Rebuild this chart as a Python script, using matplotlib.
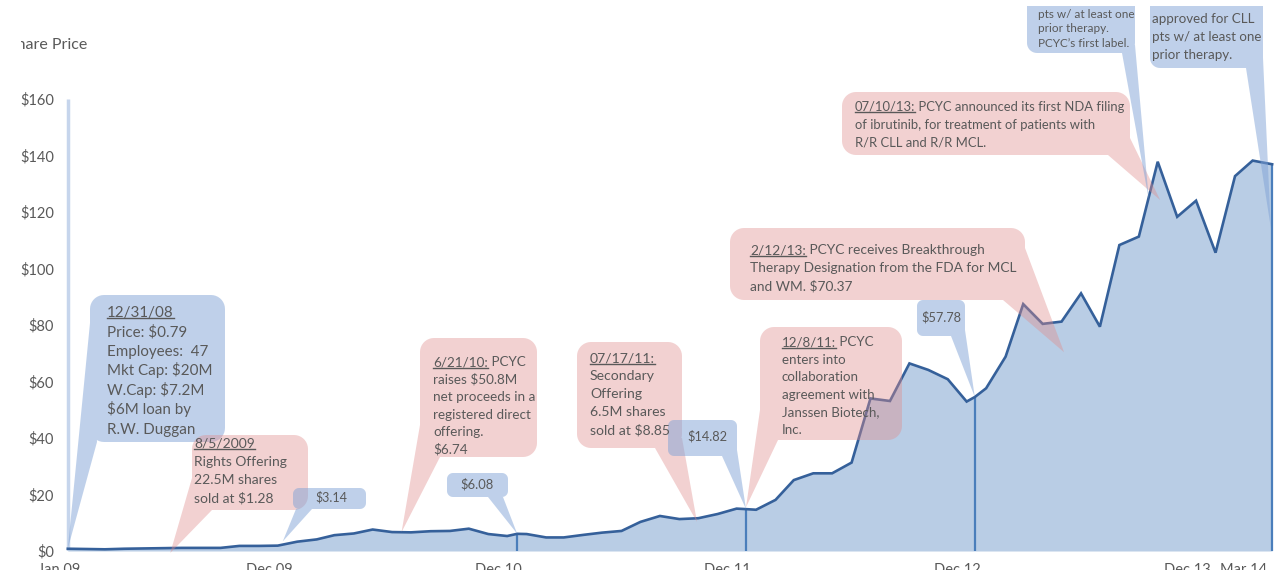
import matplotlib
matplotlib.use("Agg")
import matplotlib.pyplot as plt
import matplotlib.dates as mdates
from matplotlib.path import Path
from matplotlib.patches import PathPatch, Rectangle
import numpy as np
import pandas as pd

# ---------------- data ----------------
month_start = "2009-01-01"
month_values = [0.8, 0.7, 0.6, 0.8, 0.9, 1.0, 1.1, 1.1, 1.1, 1.8, 1.8, 1.9,
                3.3, 4.1, 5.6, 6.2, 7.6, 6.7, 6.6, 7.0, 7.1, 7.9, 6.0, 5.3,
                6.0, 4.8, 4.8, 5.7, 6.5, 7.1, 10.3, 12.4, 11.3, 11.6, 13.1, 15.0,
                14.6, 18.1, 25.1, 27.5, 27.5, 31.3, 54.0, 53.1, 66.4, 64.1, 60.8, 52.9,
                57.6, 68.8, 87.4, 80.4, 81.2, 91.2, 79.4, 108.3, 111.3, 137.8, 118.3, 124.0,
                105.6, 132.7, 138.2, 136.9]
event_dates = ["2010-12-31", "2011-12-30", "2012-12-28"]
event_values = [6.08, 14.82, 54.5]

tick_dates = ["2009-01-01", "2009-12-01", "2010-12-01", "2011-12-01",
              "2012-12-01", "2013-12-01", "2014-03-01"]
tick_labels = ["Jan 09", "Dec 09", "Dec 10", "Dec 11", "Dec 12", "Dec 13", "Mar 14"]
y_ticks = [0, 20, 40, 60, 80, 100, 120, 140, 160]
y_labels = ["$0", "$20", "$40", "$60", "$80", "$100", "$120", "$140", "$160"]

month_dates = pd.date_range(month_start, periods=len(month_values), freq="MS") + pd.Timedelta(days=14)
s = pd.concat([pd.Series(month_values, index=month_dates),
               pd.Series(event_values, index=pd.to_datetime(event_dates))]).sort_index()

# ---------------- figure ----------------
W, H = 1276, 570
FAM = "Lato"
GRAY = "#595959"
LINE = "#35609a"
FILL = "#b9cde5"
DROP = "#4a7ebb"
RED_FC = (0.88, 0.55, 0.55, 0.40)
BLUE_FC = (0.50, 0.64, 0.84, 0.50)

fig = plt.figure(figsize=(W / 100, H / 100), dpi=100)
ax = fig.add_axes([59 / W, 19 / H, (1274 - 59) / W, 452 / H])
ax.set_xlim(pd.Timestamp("2009-01-01"), pd.Timestamp("2014-04-18"))
ax.set_ylim(0, 160)

ax.fill_between(s.index, s.values, 0, color=FILL, lw=0, zorder=1)
ax.plot(s.index, s.values, color=LINE, lw=1.9, zorder=3, solid_joinstyle="miter")
ax.vlines(pd.to_datetime(event_dates), 0, event_values, color=DROP, lw=1.6, zorder=2)
ax.vlines(s.index[-1], 0, s.values[-1], color=DROP, lw=1.6, zorder=2)
ax.vlines(s.index[0], 0, 160, color="#c6d5ec", lw=2.5, zorder=0.5)

for sp in ax.spines.values():
    sp.set_visible(False)
ax.set_yticks(y_ticks)
ax.set_yticklabels(y_labels, fontsize=10.5, color=GRAY, family=FAM)
ax.set_xticks(pd.to_datetime(tick_dates))
ax.set_xticklabels(tick_labels, fontsize=10.5, color=GRAY, family=FAM)
ax.tick_params(axis="y", length=0, pad=3.6)
ax.tick_params(axis="x", length=0, pad=8.5)

fig.text(8 / W, 1 - 45 / H, "Share Price", fontsize=11.5, color=GRAY, family=FAM,
         va="center", ha="left")
fig.add_artist(Rectangle((0, 1 - 62 / H), 21 / W, 34 / H, transform=fig.transFigure,
                         facecolor="white", edgecolor="none", zorder=10))

R = fig.canvas.get_renderer()


def px2f(x, y):
    return (x / W, 1 - y / H)


def data2f(d, v):
    disp = ax.transData.transform((mdates.date2num(pd.Timestamp(d)), v))
    return tuple(fig.transFigure.inverted().transform(disp))


def rrect(x0, y0, x1, y1, r, n=10):
    pts = []
    for cx, cy, a0 in [(x1 - r, y0 + r, -90), (x1 - r, y1 - r, 0),
                       (x0 + r, y1 - r, 90), (x0 + r, y0 + r, 180)]:
        for t in np.linspace(a0, a0 + 90, n):
            pts.append((cx + r * np.cos(np.radians(t)), cy + r * np.sin(np.radians(t))))
    return [px2f(*p) for p in pts]


def area(pts):
    p = np.array(pts)
    return 0.5 * np.sum(p[:, 0] * np.roll(p[:, 1], -1) - np.roll(p[:, 0], -1) * p[:, 1])


def fit_size(text, target):
    t = fig.text(0, 0, text, fontsize=10, family=FAM)
    w = t.get_window_extent(R).width
    t.remove()
    return 10 * target / w


def callout(kind, box, r, base, tip, lines, tx, ty0, dy, ref_line, ref_w, center=False):
    fc = RED_FC if kind == "red" else BLUE_FC
    p1 = rrect(*box, r)
    p2 = [px2f(*base[0]), px2f(*base[1]), data2f(*tip)]
    verts, codes = [], []
    for poly in (p1, p2):
        if area(poly) < 0:
            poly = poly[::-1]
        verts += poly + [poly[0]]
        codes += [Path.MOVETO] + [Path.LINETO] * (len(poly) - 1) + [Path.CLOSEPOLY]
    fig.add_artist(PathPatch(Path(verts, codes), transform=fig.transFigure,
                             facecolor=fc, edgecolor="none", zorder=4))
    fs = fit_size(ref_line, ref_w)
    em = fs * 100 / 72
    for i, ln in enumerate(lines):
        y = ty0 + i * dy + 0.3 * em
        if isinstance(ln, tuple):
            u, rest = ln
            t = fig.text(*px2f(tx, y), u, fontsize=fs, family=FAM, color=GRAY,
                         va="baseline", ha="left", zorder=6)
            bb = t.get_window_extent(R)
            uy = y + 0.12 * em
            fig.add_artist(plt.Line2D([bb.x0 / W, bb.x1 / W], [1 - uy / H] * 2,
                                      transform=fig.transFigure, color=GRAY, lw=1.0, zorder=6))
            if rest:
                fig.text(bb.x1 / W, 1 - y / H, rest, fontsize=fs, family=FAM, color=GRAY,
                         va="baseline", ha="left", zorder=6)
        else:
            fig.text(*px2f(tx, y), ln, fontsize=fs, family=FAM, color=GRAY,
                     va="baseline", ha="center" if center else "left", zorder=6)


callout("blue", (90, 295, 225, 442), 14, [(90, 323), (97, 442)], (month_dates[0], month_values[0]),
        [("12/31/08", ""), "Price: $0.79", "Employees:  47", "Mkt Cap: $20M", "W.Cap: $7.2M",
         "$6M loan by", "R.W. Duggan"], 107, 312, 19.5, "Employees:  47", 101)
callout("red", (192, 435, 308, 510), 14, [(192, 478), (212, 510)], ("2009-06-27", -0.7),
        [("8/5/2009", ""), "Rights Offering", "22.5M shares", "sold at $1.28"],
        194, 443, 18.5, "Rights Offering", 93)
callout("blue", (293, 488, 366, 509), 6, [(296, 509), (312, 509)], ("2009-12-23", 3.4),
        ["$3.14"], 331, 498, 0, "$3.14", 32, center=True)
callout("red", (420, 338, 537, 457), 14, [(420, 425), (440, 457)], ("2010-06-30", 6.7),
        [("6/21/10:", " PCYC"), "raises $50.8M", "net proceeds in a", "registered direct",
         "offering.", "$6.74"], 433, 362, 17.5, "net proceeds in a", 102)
callout("blue", (447, 473, 508, 497), 6, [(488, 497), (503, 497)], (event_dates[0], event_values[0]),
        ["$6.08"], 477, 485, 0, "$6.08", 33, center=True)
callout("red", (577, 342, 682, 448), 14, [(655, 448), (682, 438)], ("2011-10-13", 10.3),
        [("07/17/11:", ""), "Secondary", "Offering", "6.5M shares", "sold at $8.85"],
        590, 358, 18, "sold at $8.85", 80)
callout("blue", (668, 420, 737, 456), 6, [(722, 456), (737, 450)], (event_dates[1], event_values[1]),
        ["$14.82"], 707, 437, 0, "$14.82", 40, center=True)
callout("red", (760, 327, 902, 440), 14, [(760, 410), (778, 440)], (event_dates[1], 15.5),
        [("12/8/11:", " PCYC"), "enters into", "collaboration", "agreement with",
         "Janssen Biotech,", "Inc."], 782, 342, 17.6, "Janssen Biotech,", 98)
callout("blue", (917, 300, 965, 336), 6, [(951, 336), (965, 330)], (event_dates[2], event_values[2]),
        ["$57.78"], 941, 318, 0, "$57.78", 40, center=True)
callout("red", (730, 228, 1025, 300), 14, [(1003, 300), (1025, 248)], ("2013-05-19", 70.37),
        [("2/12/13:", " PCYC receives Breakthrough"), "Therapy Designation from the FDA for MCL",
         "and WM. $70.37"], 750, 250, 18, "Therapy Designation from the FDA for MCL", 265)
callout("red", (842, 92, 1130, 155), 14, [(1108, 155), (1130, 138)], ("2013-10-19", 124.2),
        [("07/10/13:", " PCYC announced its first NDA filing"),
         "of ibrutinib, for treatment of patients with", "R/R CLL and R/R MCL."],
        855, 107, 17.7, "07/10/13: PCYC announced its first NDA filing", 268)
callout("blue", (1027, -40, 1135, 53), 10, [(1122, 53), (1135, 45)], ("2013-10-01", 124.2),
        ["pts w/ at least one", "prior therapy.", "PCYC\u2019s first label."],
        1038, 14, 14.5, "pts w/ at least one", 96)
callout("blue", (1150, -40, 1263, 68), 10, [(1246, 68), (1263, 58)], ("2014-04-13", 114.3),
        ["approved for CLL", "pts w/ at least one", "prior therapy."],
        1152, 19, 18, "pts w/ at least one", 109)

fig.add_artist(Rectangle((1000 / W, 1 - 6 / H), 276 / W, 6 / H, transform=fig.transFigure,
                         facecolor="white", edgecolor="none", zorder=10))

fig.savefig("out.png", dpi=100)
